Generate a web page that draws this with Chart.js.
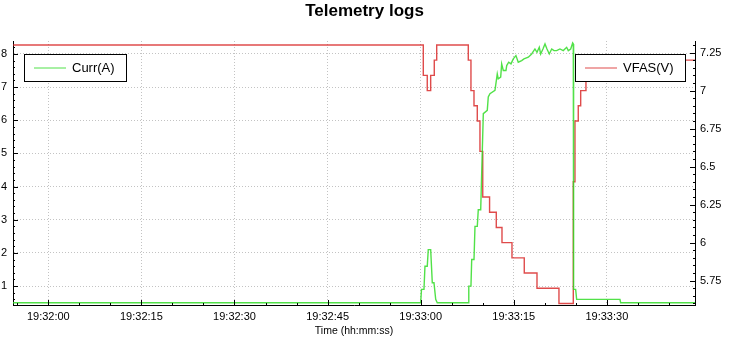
<!DOCTYPE html>
<html>
<head>
<meta charset="utf-8">
<title>Telemetry logs</title>
<script src="https://cdn.jsdelivr.net/npm/chart.js@4/dist/chart.umd.min.js"></script>
<style>
  html, body { margin: 0; padding: 0; background: #fff; }
  canvas { display: block; }
</style>
</head>
<body>
<canvas id="logChart" width="729" height="343"></canvas>
<script>
// seconds after 19:32:00
var xTickValues = [0, 15, 30, 45, 60, 75, 90]
var xTickLabels = ['19:32:00', '19:32:15', '19:32:30', '19:32:45', '19:33:00', '19:33:15', '19:33:30']

var currTimes = [-5.69, 60.0, 60.13, 60.53, 60.69, 61.06, 61.22, 61.61, 61.87, 62.14, 62.42, 62.67,
  67.67, 67.75, 68.1, 68.22, 68.59, 68.75, 69.12, 69.28, 69.67, 70.09, 70.73, 70.89, 71.16,
  71.97, 72.34, 72.5, 72.89, 73.05, 73.31, 73.74, 73.86, 74.18, 74.55, 74.92, 75.35, 75.72,
  76.27, 76.64, 77.34, 77.88, 78.41, 78.74, 79.11, 79.33, 79.7, 80.03, 80.35, 80.72, 81.11,
  81.48, 81.91, 82.44, 82.97, 83.52, 83.78, 84.17, 84.49, 84.59, 84.64, 84.97, 85.13, 92.11,
  92.22, 104.2]
var currValues = [0.5, 0.5, 0.9, 0.9, 1.6, 1.6, 2.1, 2.1, 1.1, 1.1, 0.6, 0.5,
  0.5, 1.0, 1.0, 1.8, 1.8, 2.8, 2.8, 3.3, 3.3, 6.2, 6.3, 6.7, 6.8,
  6.9, 7.4, 7.25, 7.3, 7.7, 7.5, 7.5, 7.65, 7.75, 7.7, 7.85, 7.95, 7.75,
  7.8, 7.85, 7.9, 8.0, 8.15, 8.05, 8.2, 8.0, 8.15, 8.3, 8.15, 8.0, 8.15,
  8.1, 8.1, 8.15, 8.1, 8.2, 8.1, 8.15, 8.33, 8.3, 0.9, 0.9, 0.6, 0.6,
  0.5, 0.5]

var vfasTimes = [-5.69, 60.42, 61.06, 61.61, 62.19, 62.58, 67.67, 68.1, 68.59, 69.12, 69.55, 70.0,
  71.1, 72.18, 73.1, 74.71, 76.69, 78.74, 82.28, 84.59, 84.86, 85.39, 85.78, 86.63, 88.5, 104.2]
var vfasValues = [7.3, 7.1, 7.0, 7.1, 7.2, 7.3, 7.2, 7.0, 6.9, 6.8, 6.6, 6.3,
  6.2, 6.1, 6.0, 5.9, 5.8, 5.7, 5.6, 6.4, 6.8, 6.9, 7.0, 7.1, 7.2, 7.2]

var FONT = '"Liberation Sans", Arial, sans-serif'

function points(times, values) {
  return times.map(function (t, i) { return { x: t, y: values[i] } })
}

function trimNum(v) {
  return String(Number(v.toFixed(2)))
}

// small tick marks pointing into the plot, like the original
var axisTicks = {
  id: 'axisTicks',
  afterDraw: function (chart) {
    var ctx = chart.ctx
    var a = chart.chartArea
    ctx.save()
    ctx.strokeStyle = '#000'
    ctx.lineWidth = 1
    ctx.beginPath()
    var sx = chart.scales.x
    for (var k = Math.ceil(sx.min / 5); k * 5 <= sx.max; k++) {
      var px = Math.round(sx.getPixelForValue(k * 5)) + 0.5
      var len = k % 3 === 0 ? 5 : 2
      ctx.moveTo(px, a.bottom)
      ctx.lineTo(px, a.bottom - len)
    }
    ;[['y', 0.2, 1], ['y1', 0.05, -1]].forEach(function (s) {
      var sc = chart.scales[s[0]]
      var step = s[1]
      var dir = s[2]
      var x0 = dir > 0 ? a.left : a.right
      for (var k = Math.ceil(sc.min / step - 1e-6); k * step <= sc.max + 1e-6; k++) {
        var py = Math.round(sc.getPixelForValue(k * step)) + 0.5
        var len = k % 5 === 0 ? 5 : 2
        ctx.moveTo(x0, py)
        ctx.lineTo(x0 + dir * len, py)
      }
    })
    ctx.stroke()
    ctx.restore()
  }
}

// two separate framed legends, left and right
var legendBoxes = {
  id: 'legendBoxes',
  afterDatasetsDraw: function (chart) {
    var ctx = chart.ctx
    var a = chart.chartArea
    ctx.save()
    ctx.font = '13px ' + FONT
    chart.data.datasets.forEach(function (ds, i) {
      var tw = ctx.measureText(ds.label).width
      var w = Math.round(10 + 32 + 6 + tw + 11)
      var h = 27
      var x = i === 0 ? Math.round(a.left + 11) : Math.round(a.right - 10 - w)
      var y = Math.round(a.top + 13)
      ctx.fillStyle = '#fff'
      ctx.fillRect(x, y, w, h)
      ctx.strokeStyle = '#000'
      ctx.lineWidth = 1
      ctx.strokeRect(x + 0.5, y + 0.5, w, h)
      ctx.strokeStyle = ds.borderColor
      ctx.beginPath()
      ctx.moveTo(x + 10, y + h / 2 + 0.5)
      ctx.lineTo(x + 42, y + h / 2 + 0.5)
      ctx.stroke()
      ctx.fillStyle = '#000'
      ctx.textBaseline = 'middle'
      ctx.textAlign = 'left'
      ctx.fillText(ds.label, x + 48, y + h / 2 + 1)
    })
    ctx.restore()
  }
}

Chart.defaults.font.family = FONT
Chart.defaults.color = '#000'

var chart = new Chart(document.getElementById('logChart'), {
  type: 'line',
  data: {
    datasets: [{
      label: 'Curr(A)',
      data: points(currTimes, currValues),
      yAxisID: 'y',
      borderColor: 'rgba(50, 220, 40, 0.85)',
      borderWidth: 1.4,
      pointRadius: 0,
      tension: 0,
      fill: false
    }, {
      label: 'VFAS(V)',
      data: points(vfasTimes, vfasValues),
      yAxisID: 'y1',
      borderColor: 'rgba(215, 30, 30, 0.8)',
      borderWidth: 1.4,
      pointRadius: 0,
      stepped: true,
      fill: false
    }]
  },
  options: {
    responsive: false,
    devicePixelRatio: 1,
    animation: false,
    parsing: false,
    layout: { padding: 0 },
    plugins: {
      legend: { display: false },
      tooltip: { enabled: false },
      title: {
        display: true,
        text: 'Telemetry logs',
        color: '#000',
        font: { size: 17, weight: 'bold', lineHeight: 1.25 },
        padding: { top: 1, bottom: 18.75 }
      }
    },
    scales: {
      x: {
        type: 'linear',
        min: -5.69,
        max: 104.2,
        afterFit: function (s) { s.height = 38 },
        ticks: {
          stepSize: 15,
          includeBounds: false,
          maxRotation: 0,
          autoSkip: false,
          padding: 5,
          font: { size: 11 },
          callback: function (v) {
            var i = xTickValues.indexOf(v)
            return i >= 0 ? xTickLabels[i] : ''
          }
        },
        grid: { color: 'rgb(195,195,195)', drawTicks: false },
        border: { display: true, color: '#000', width: 1, dash: [1, 2] },
        title: {
          display: true,
          text: 'Time (hh:mm:ss)',
          font: { size: 10.5 },
          padding: { top: 0, bottom: 6 }
        }
      },
      y: {
        type: 'linear',
        position: 'left',
        min: 0.43,
        max: 8.39,
        afterFit: function (s) { s.width = 13 },
        ticks: {
          stepSize: 1,
          includeBounds: false,
          padding: 6,
          font: { size: 11 },
          callback: function (v) { return trimNum(v) }
        },
        grid: { color: 'rgb(195,195,195)', drawTicks: false },
        border: { display: true, color: '#000', width: 1, dash: [1, 2] }
      },
      y1: {
        type: 'linear',
        position: 'right',
        min: 5.59,
        max: 7.326,
        afterFit: function (s) { s.width = 34 },
        ticks: {
          stepSize: 0.25,
          includeBounds: false,
          padding: 5,
          font: { size: 11 },
          callback: function (v) { return trimNum(v) }
        },
        grid: { drawOnChartArea: false, drawTicks: false },
        border: { display: true, color: '#000', width: 1 }
      }
    }
  },
  plugins: [legendBoxes, axisTicks]
})
</script>
</body>
</html>
